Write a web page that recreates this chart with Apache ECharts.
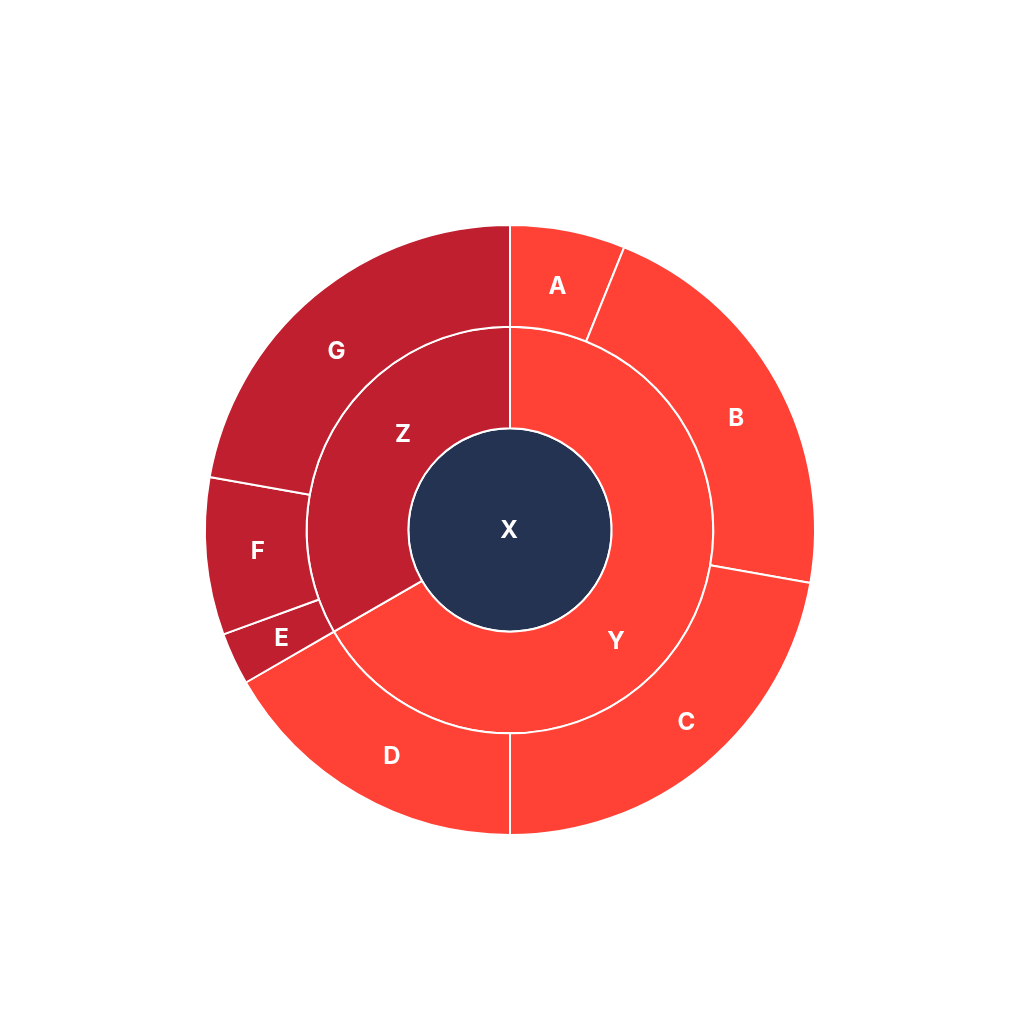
<!DOCTYPE html>
<html>
<head>
<meta charset="utf-8">
<script src="https://cdn.jsdelivr.net/npm/echarts@6/dist/echarts.min.js"></script>
<style>
  html, body { margin: 0; padding: 0; background: #fff; }
  #chart { width: 1020px; height: 1020px; }
</style>
</head>
<body>
<div id="chart"></div>
<script>
// leaves under Y and Z
const yLeaves = ['A', 'B', 'C', 'D']
const yValues = [11, 39, 40, 30]
const zLeaves = ['E', 'F', 'G']
const zValues = [5, 15, 40]

const rootName = 'X'
const groupNames = ['Y', 'Z']
const colorRoot = '#253353'
const colorY = '#FF4136'
const colorZ = '#C01F2F'

// small nudges [dx, dy] so the labels sit where the original puts them
const labelShift = {
  X: [-1, 1], Y: [-26, 36], Z: [25, -19],
  A: [-1, 6], B: [4, 12], C: [13, -2], D: [9, 7],
  E: [2, 1], F: [1, 0], G: [-10, 16]
}

// sunburst ignores label.offset: shift x with side padding,
// shift y with an empty line above / below of height 2*dy
function shiftedLabel(name) {
  let s = labelShift[name] || [0, 0]
  let dx = s[0], dy = s[1]
  let label = { padding: [0, dx < 0 ? -2 * dx : 0, 0, dx > 0 ? 2 * dx : 0] }
  if (dy !== 0) {
    label.lineHeight = 2 * Math.abs(dy)
    label.formatter = dy > 0 ? '\n' + name : name + '\n'
  }
  return label
}

function node(name, color, extra) {
  let item = { name: name, itemStyle: { color: color }, label: shiftedLabel(name) }
  return Object.assign(item, extra)
}

function leaves(names, values, color) {
  let list = []
  for (let i = 0; i < names.length; ++i) {
    list.push(node(names[i], color, { value: values[i] }))
  }
  return list
}

const data = [node(rootName, colorRoot, {
  children: [
    node(groupNames[0], colorY, { children: leaves(yLeaves, yValues, colorY) }),
    node(groupNames[1], colorZ, { children: leaves(zLeaves, zValues, colorZ) })
  ]
})]

const chart = echarts.init(document.getElementById('chart'))
chart.setOption({
  animation: false,
  series: [{
    type: 'sunburst',
    center: [510, 530],
    radius: [0, 305],
    sort: null,
    startAngle: 90,
    nodeClick: false,
    data: data,
    itemStyle: {
      borderColor: '#ffffff',
      borderWidth: 2
    },
    label: {
      rotate: 0,
      color: '#ffffff',
      fontFamily: 'Inter',
      fontWeight: 'bold',
      fontSize: 24
    },
    emphasis: { disabled: true }
  }]
})
</script>
</body>
</html>
